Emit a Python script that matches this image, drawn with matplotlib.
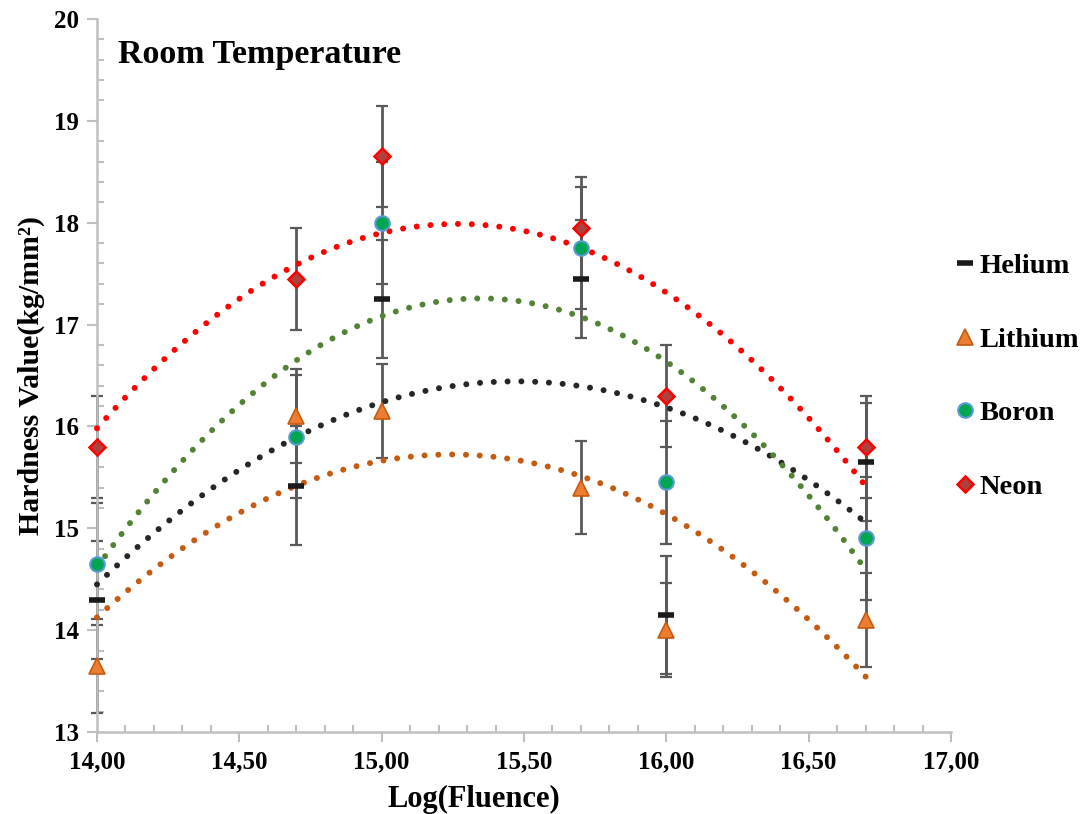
import numpy as np
import matplotlib
matplotlib.use("Agg")
import matplotlib.pyplot as plt
from matplotlib.ticker import MultipleLocator, FuncFormatter
from matplotlib.lines import Line2D

plt.rcParams['font.family'] = ['Liberation Serif', 'DejaVu Serif']
plt.rcParams['font.weight'] = 'bold'

# log(fluence) positions
x = [14.0, 14.7, 15.0, 15.7, 16.0, 16.7]

# hardness values
helium = [14.30, 15.42, 17.25, 17.45, 14.15, 15.65]
lithium = [13.65, 16.10, 16.15, 15.40, 14.00, 14.10]
boron = [14.65, 15.90, 18.00, 17.75, 15.45, 14.90]
neon = [15.80, 17.45, 18.65, 17.95, 16.30, 15.80]

# fixed error bar sizes
err_helium = 0.58
err_lithium = 0.46
err_boron = 0.60
err_neon = 0.50

series = [
  ("Helium", helium, err_helium, dict(marker='_', color='#1a1a1a', ms=11, mew=4), '#262626'),
  ("Lithium", lithium, err_lithium, dict(marker='^', mfc='#ED7D31', mec='#C55A11', ms=11, mew=1.2), '#C55A11'),
  ("Boron", boron, err_boron, dict(marker='o', mfc='#00A651', mec='#5B9BD5', ms=10.5, mew=1.5), '#548235'),
  ("Neon", neon, err_neon, dict(marker='D', mfc='#B0403C', mec='#FF0000', ms=8.5, mew=1.8), '#FF0000'),
]

fig = plt.figure(figsize=(10.86, 8.14), dpi=100)
ax = fig.add_axes([0.0893, 0.1007, 0.7864, 0.876])

xs = np.linspace(x[0], x[-1], 300)
handles = []
for name, y, e, mk, tcol in series:
  ax.errorbar(x, y, yerr=e, fmt='none', ecolor='#595959', elinewidth=2, capsize=4.5, capthick=1.6,
              zorder=2, clip_on=False)
  # second order polynomial trendline (as in the original spreadsheet)
  c = np.polyfit(x, y, 2)
  ax.plot(xs, np.polyval(c, xs), color=tcol, lw=4.3, linestyle=(0, (0.01, 2.3)),
          dash_capstyle='round', zorder=3, clip_on=False)
  ax.plot(x, y, linestyle='none', zorder=4, clip_on=False, **mk)
  handles.append(Line2D([], [], linestyle='none', **mk))

ax.set_xlim(14, 17)
ax.set_ylim(13, 20)
ax.xaxis.set_major_locator(MultipleLocator(0.5))
ax.xaxis.set_minor_locator(MultipleLocator(0.1))
ax.yaxis.set_major_locator(MultipleLocator(1))
ax.yaxis.set_minor_locator(MultipleLocator(0.2))
ax.xaxis.set_major_formatter(FuncFormatter(lambda v, p: ('%.2f' % v).replace('.', ',')))
ax.yaxis.set_major_formatter(FuncFormatter(lambda v, p: '%d' % v))

for s in ['top', 'right']:
  ax.spines[s].set_visible(False)
for s in ['left', 'bottom']:
  ax.spines[s].set_color('#BFBFBF')
  ax.spines[s].set_linewidth(1.8)

ax.tick_params(which='major', direction='out', length=7, width=1.5, color='#BFBFBF', labelsize=18, pad=6)
ax.tick_params(which='minor', direction='in', length=5, width=1.5, color='#BFBFBF')

ax.set_xlabel("Log(Fluence)", fontsize=22, fontweight='bold')
ax.xaxis.set_label_coords(0.441, -0.074)
ax.set_ylabel("Hardness Value(kg/mm²)", fontsize=21.5, fontweight='bold', labelpad=6)
ax.text(0.025, 0.95, "Room Temperature", transform=ax.transAxes, fontsize=24.5, fontweight='bold', va='center')

fig.legend(handles, [s[0] for s in series], loc='center left', bbox_to_anchor=(0.856, 0.5375),
           frameon=False, labelspacing=1.68, handlelength=0.7, handletextpad=0.15,
           prop={'weight': 'bold', 'size': 20.5})

fig.savefig("out.png", dpi=100)
